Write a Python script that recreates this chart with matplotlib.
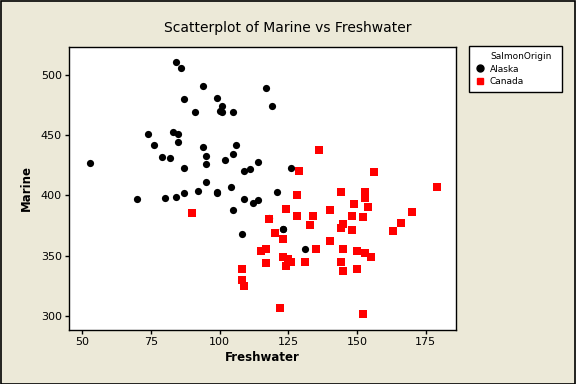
import matplotlib
matplotlib.use("Agg")
import matplotlib.pyplot as plt
from matplotlib.lines import Line2D
from matplotlib.patches import Rectangle

# Alaska salmon: freshwater / marine growth ring diameters
alaska_fresh = [84, 86, 94, 99, 87, 101, 91, 100, 101, 105,
                74, 83, 85, 85, 76, 94, 106, 79, 82, 95,
                105, 102, 95, 53, 87, 95, 104, 92, 87, 99,
                99, 84, 80, 70, 105, 117, 119, 114, 126, 109,
                111, 121, 109, 112, 114, 118, 108, 123, 123, 131]
alaska_marine = [511, 506, 491, 481, 480, 474, 469, 470, 469, 469,
                 451, 453, 451, 444, 442, 440, 442, 432, 431, 433,
                 434, 429, 426, 427, 423, 411, 407, 404, 402, 402,
                 403, 399, 398, 397, 388, 489, 474, 428, 423, 420,
                 422, 403, 397, 394, 396, 381, 368, 372, 372, 355]

# Canada salmon
canada_fresh = [90, 136, 129, 156, 179, 128, 144, 153, 153, 149,
                154, 124, 140, 170, 128, 134, 148, 152, 118, 145,
                166, 133, 144, 148, 163, 120, 123, 140, 115, 117,
                135, 145, 150, 153, 155, 123, 125, 126, 124, 117,
                131, 144, 150, 145, 108, 108, 109, 122, 152]
canada_marine = [385, 438, 420, 419, 407, 400, 403, 403, 398, 393,
                 390, 389, 388, 386, 383, 383, 383, 382, 380, 376,
                 377, 375, 373, 371, 370, 369, 364, 362, 354, 355,
                 355, 355, 354, 352, 349, 349, 347, 345, 341, 344,
                 345, 345, 339, 337, 339, 330, 325, 306, 301]

bg = "#ECE9D8"

fig = plt.figure(figsize=(5.76, 3.84), dpi=100, facecolor=bg)
ax = fig.add_axes([69 / 576, 1 - 330 / 384, (456.3 - 69) / 576, (330 - 46.5) / 384])
ax.set_facecolor("white")

sc1 = ax.scatter(alaska_fresh, alaska_marine, s=27, marker="o", color="black",
                 linewidths=0, zorder=3)
sc2 = ax.scatter(canada_fresh, canada_marine, s=27, marker="s", color="#FF0000",
                 linewidths=0, zorder=4)

ax.set_xlim(45.2, 186.1)
ax.set_ylim(288.1, 523.7)
ax.set_xticks([50, 75, 100, 125, 150, 175])
ax.set_yticks([300, 350, 400, 450, 500])
ax.tick_params(direction="out", length=3, width=1, labelsize=8, pad=2,
               colors="black")
for sp in ax.spines.values():
    sp.set_linewidth(1)
    sp.set_color("black")

ax.set_xlabel("Freshwater", fontsize=8.5, fontweight="bold", labelpad=3)
ax.set_ylabel("Marine", fontsize=8.5, fontweight="bold", labelpad=6)
fig.text(0.5, 1 - 28 / 384, "Scatterplot of Marine vs Freshwater",
         ha="center", va="center", fontsize=10)

# legend box
fig.patches.append(Rectangle((469 / 576, 1 - 92.3 / 384), (562.3 - 469) / 576,
                             (92.3 - 46.3) / 384, transform=fig.transFigure,
                             facecolor="white", edgecolor="black", linewidth=1))
blank = Line2D([], [], linestyle="none", marker=None)
alaska_h = Line2D([], [], linestyle="none", marker="o", color="black", markersize=5)
canada_h = Line2D([], [], linestyle="none", marker="s", color="#FF0000", markersize=5)
fig.legend(handles=[blank, alaska_h, canada_h],
           labels=["SalmonOrigin", "Alaska", "Canada"],
           loc="upper left", bbox_to_anchor=(471 / 576, 1 - 46.5 / 384),
           frameon=False, fontsize=6.5, handlelength=0.8, handletextpad=0.7,
           labelspacing=0.4, borderpad=0.1)

# outer border
fig.patches.append(Rectangle((0.001, 0.001), 0.997, 0.997, transform=fig.transFigure,
                             facecolor="none", edgecolor="black", linewidth=1.2))

fig.savefig("out.png", dpi=100, facecolor=bg)
